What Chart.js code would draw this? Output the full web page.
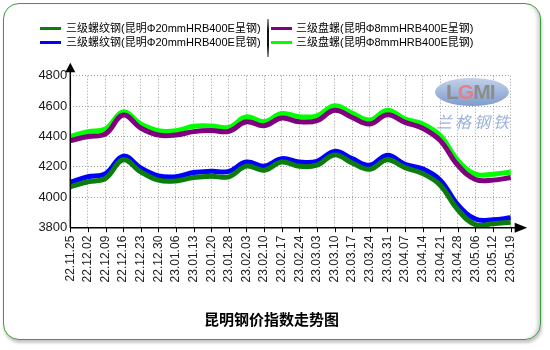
<!DOCTYPE html>
<html>
<head>
<meta charset="utf-8">
<script src="https://cdn.jsdelivr.net/npm/chart.js@4"></script>
<style>
  html, body { margin: 0; padding: 0; background: #fff; width: 550px; height: 350px; overflow: hidden; }
  #frame {
    position: absolute; left: 3px; top: 3px; width: 536px; height: 335px;
    border: 1.5px solid #3f9b3f; border-radius: 16px; background: #fff;
    box-shadow: 1px 3px 3px rgba(0,0,0,0.22), inset -5px 0 4px -3px rgba(0,0,0,0.22);
  }
  #c { position: absolute; left: 0; top: 0; }
  .leg { position: absolute; font: 11px "Liberation Sans", "Noto Sans CJK SC", sans-serif; color: #000; white-space: nowrap; line-height: 14px; }
  .sw { position: absolute; width: 21px; height: 3px; }
  #sep { position: absolute; left: 267px; top: 19px; width: 2px; height: 38px; background: linear-gradient(#999, #111 30%, #111 70%, #999); }
  #title { position: absolute; left: 0; width: 543px; top: 308px; text-align: center; font: bold 15px "Noto Sans CJK SC", sans-serif; color: #000; }
</style>
</head>
<body>
<div id="frame"></div>
<canvas id="c" width="550" height="350"></canvas>
<div id="sep"></div>
<div id="title">昆明钢价指数走势图</div>
<script>
// Weekly price index dates
const dates = ['22.11.25','22.12.02','22.12.09','22.12.16','22.12.23','22.12.30','23.01.06','23.01.13','23.01.20','23.01.28','23.02.03','23.02.10','23.02.17','23.02.24','23.03.03','23.03.10','23.03.17','23.03.24','23.03.31','23.04.07','23.04.14','23.04.21','23.04.28','23.05.06','23.05.12','23.05.19'];

const seriesNames = [
  '三级螺纹钢(昆明Φ20mmHRB400E呈钢)',
  '三级螺纹钢(昆明Φ20mmHRB400E昆钢)',
  '三级盘螺(昆明Φ8mmHRB400E呈钢)',
  '三级盘螺(昆明Φ8mmHRB400E昆钢)'
];

const rebarCheng = [4069,4102,4124,4247,4167,4113,4108,4130,4139,4135,4205,4178,4232,4204,4211,4279,4226,4184,4247,4195,4156,4080,3918,3820,3826,3836];
const rebarKun   = [4100,4135,4156,4271,4193,4141,4135,4163,4171,4171,4232,4204,4254,4232,4236,4302,4254,4211,4276,4217,4187,4113,3950,3857,3852,3865];
const coilCheng  = [4373,4400,4417,4541,4456,4410,4410,4432,4439,4434,4497,4471,4521,4497,4504,4572,4525,4482,4543,4493,4454,4373,4211,4117,4113,4130];
const coilKun    = [4400,4432,4450,4562,4482,4438,4438,4467,4469,4460,4530,4497,4551,4530,4536,4602,4554,4508,4573,4515,4482,4406,4243,4152,4152,4167];

const yTicks = [3800, 4000, 4200, 4400, 4600, 4800];

const colors = ['#0a7d0a', '#0000ff', '#800080', '#00ff00'];
const values = [rebarCheng, rebarKun, coilCheng, coilKun];

// Legend: two columns, two rows
const legendPos = [
  { sx: 40, tx: 66, y: 28 },
  { sx: 40, tx: 66, y: 42 },
  { sx: 271, tx: 296, y: 28 },
  { sx: 271, tx: 296, y: 42 }
];
seriesNames.forEach((name, i) => {
  const p = legendPos[i];
  const sw = document.createElement('div');
  sw.className = 'sw';
  sw.style.left = p.sx + 'px';
  sw.style.top = (p.y - 1.5) + 'px';
  sw.style.background = colors[i];
  document.body.appendChild(sw);
  const t = document.createElement('div');
  t.className = 'leg';
  t.style.left = p.tx + 'px';
  t.style.top = (p.y - 7) + 'px';
  t.textContent = name;
  document.body.appendChild(t);
});

// Axes with arrow heads, tick marks and the watermark
const decor = {
  id: 'decor',
  beforeDatasetsDraw(chart) {
    const ctx = chart.ctx;
    ctx.save();
    const g = ctx.createLinearGradient(0, 78, 0, 106);
    g.addColorStop(0, '#c3d1ea');
    g.addColorStop(1, '#7f9dcd');
    ctx.fillStyle = g;
    ctx.beginPath();
    ctx.ellipse(472, 92, 37, 14, 0, 0, Math.PI * 2);
    ctx.fill();
    ctx.font = 'bold 21px "Liberation Sans", sans-serif';
    ctx.textBaseline = 'middle';
    ctx.textAlign = 'left';
    const parts = [['L', '#8d8d8d'], ['G', '#e77f86'], ['M', '#8d8d8d'], ['I', '#8d8d8d']];
    let x = 446;
    parts.forEach(([ch, col]) => {
      ctx.fillStyle = col;
      ctx.fillText(ch, x, 93);
      x += ctx.measureText(ch).width - 1;
    });
    ctx.font = 'italic 16px "Noto Sans CJK SC", sans-serif';
    ctx.fillStyle = 'rgba(120,150,205,0.75)';
    const wm = '兰格钢铁';
    for (let i = 0; i < wm.length; i++) ctx.fillText(wm[i], 436 + i * 19, 122);
    ctx.restore();
  },
  afterDraw(chart) {
    const { ctx, chartArea: a, scales: { x } } = chart;
    ctx.save();
    ctx.strokeStyle = '#000';
    ctx.fillStyle = '#000';
    ctx.lineWidth = 1.5;
    ctx.beginPath();
    ctx.moveTo(a.left, a.bottom);
    ctx.lineTo(a.left, a.top - 4);
    ctx.moveTo(a.left, a.bottom);
    ctx.lineTo(a.right + 5, a.bottom);
    ctx.stroke();
    ctx.beginPath();
    ctx.moveTo(a.left, a.top - 13);
    ctx.lineTo(a.left - 5, a.top - 3.5);
    ctx.lineTo(a.left + 5, a.top - 3.5);
    ctx.closePath();
    ctx.fill();
    ctx.beginPath();
    ctx.moveTo(a.right + 16.5, a.bottom);
    ctx.lineTo(a.right + 4, a.bottom - 5);
    ctx.lineTo(a.right + 4, a.bottom + 5);
    ctx.closePath();
    ctx.fill();
    ctx.lineWidth = 1;
    ctx.beginPath();
    dates.forEach((d, i) => {
      const px = Math.round(x.getPixelForTick(i)) + 0.5;
      ctx.moveTo(px, a.bottom);
      ctx.lineTo(px, a.bottom + 4.5);
    });
    ctx.stroke();
    ctx.restore();
  }
};

new Chart(document.getElementById('c'), {
  type: 'line',
  data: {
    labels: dates,
    datasets: seriesNames.map((name, i) => ({
      label: name,
      data: values[i],
      borderColor: colors[i],
      backgroundColor: colors[i],
      borderWidth: 5,
      pointRadius: 0,
      tension: 0.4,
      fill: false
    }))
  },
  options: {
    responsive: false,
    animation: false,
    devicePixelRatio: 1,
    layout: { padding: { left: 0, top: 75.7, right: 39.3, bottom: 50 } },
    plugins: { legend: { display: false }, tooltip: { enabled: false }, title: { display: false } },
    scales: {
      x: {
        type: 'category',
        offset: false,
        grid: { color: '#9a9a9a', lineWidth: 1, drawTicks: false, borderDash: [1, 2] },
        border: { display: false, dash: [1, 2] },
        ticks: {
          autoSkip: false, minRotation: 90, maxRotation: 90, padding: 8,
          color: '#222', font: { family: '"Liberation Sans", Arial, sans-serif', size: 12 }
        },
        afterFit(scale) { scale.height = 350 - 227.7 - 50; }
      },
      y: {
        min: yTicks[0], max: yTicks[yTicks.length - 1],
        afterBuildTicks(scale) { scale.ticks = yTicks.map(v => ({ value: v })); },
        grid: { color: '#9a9a9a', lineWidth: 1, drawTicks: false, borderDash: [1, 2] },
        border: { display: false, dash: [1, 2] },
        ticks: {
          padding: 3, color: '#1a1a1a',
          font: { family: '"Liberation Sans", Arial, sans-serif', size: 13 },
          callback: (v) => String(v)
        },
        afterFit(scale) { scale.width = 70.3; }
      }
    }
  },
  plugins: [decor]
});
</script>
</body>
</html>
